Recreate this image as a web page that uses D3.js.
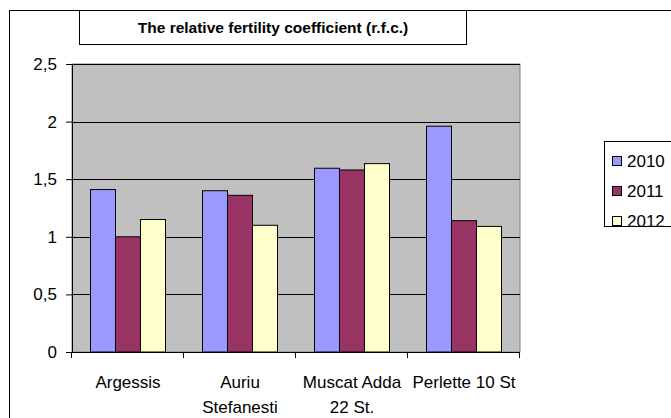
<!DOCTYPE html>
<html>
<head>
<meta charset="utf-8">
<script src="https://cdn.jsdelivr.net/npm/d3@7"></script>
<style>
  body { margin: 0; background: #fff; }
  text { font-family: "Liberation Sans", Arial, sans-serif; }
</style>
</head>
<body>
<div id="chart"></div>
<script>
// data
const categories = [["Argessis"], ["Auriu", "Stefanesti"], ["Muscat Adda", "22 St."], ["Perlette 10 St"]];
const years = ["2010", "2011", "2012"];
const v2010 = [1.41, 1.40, 1.595, 1.96];
const v2011 = [1.0, 1.36, 1.58, 1.14];
const v2012 = [1.15, 1.10, 1.635, 1.09];
const yTicks = [0, 0.5, 1, 1.5, 2, 2.5];
const colors = ["#9999FF", "#993366", "#FFFFCC"];

const series = [v2010, v2011, v2012];

const svg = d3.select("#chart")
    .append("svg")
    .attr("width", 671)
    .attr("height", 418);

// outer frame
svg.append("rect")
    .attr("x", 9.5).attr("y", 10.5)
    .attr("width", 700).attr("height", 500)
    .attr("fill", "#fff").attr("stroke", "#000");

// title box
svg.append("rect")
    .attr("x", 79.5).attr("y", 10.5)
    .attr("width", 387).attr("height", 34)
    .attr("fill", "#fff").attr("stroke", "#000");
svg.append("text")
    .attr("x", 273).attr("y", 33)
    .attr("text-anchor", "middle")
    .style("font-size", "15.5px")
    .style("font-weight", "bold")
    .text("The relative fertility coefficient (r.f.c.)");

const plot = {left: 72, top: 64, right: 520, bottom: 352};

const x = d3.scaleBand()
    .domain(d3.range(categories.length))
    .range([plot.left, plot.right])
    .padding(0);

const xs = d3.scaleBand()
    .domain(years)
    .range([18.5, x.bandwidth() - 18.5]);

const y = d3.scaleLinear()
    .domain([0, 2.5])
    .range([plot.bottom, plot.top]);

// plot area
svg.append("rect")
    .attr("x", plot.left).attr("y", plot.top)
    .attr("width", plot.right - plot.left).attr("height", plot.bottom - plot.top)
    .attr("fill", "#C0C0C0").attr("stroke", "#808080");

// gridlines
svg.append("g")
    .selectAll("line")
    .data(yTicks.filter(d => d > 0))
    .join("line")
    .attr("x1", plot.left).attr("x2", plot.right)
    .attr("y1", d => Math.round(y(d)) + 0.5).attr("y2", d => Math.round(y(d)) + 0.5)
    .attr("stroke", "#000");

// bars
series.forEach((vals, si) => {
  svg.append("g")
    .selectAll("rect")
    .data(vals)
    .join("rect")
    .attr("x", (d, i) => x(i) + xs(years[si]))
    .attr("y", d => y(d))
    .attr("width", xs.bandwidth())
    .attr("height", d => y(0) - y(d))
    .attr("fill", colors[si])
    .attr("stroke", "#000")
    .attr("stroke-width", 1);
});

// y axis
const yAxis = svg.append("g")
    .attr("transform", `translate(${plot.left}, 0)`)
    .call(d3.axisLeft(y).tickValues(yTicks).tickSize(6).tickSizeOuter(0).tickPadding(9)
      .tickFormat(d => String(d).replace(".", ",")));
yAxis.selectAll("text").style("font-size", "17px").attr("fill", "#000");
yAxis.selectAll("line, path").attr("stroke", "#000");

// x axis
const xAxisG = svg.append("g");
xAxisG.append("line")
    .attr("x1", plot.left).attr("x2", plot.right)
    .attr("y1", plot.bottom + 0.5).attr("y2", plot.bottom + 0.5)
    .attr("stroke", "#000");
xAxisG.selectAll("line.tk")
    .data(d3.range(categories.length + 1))
    .join("line")
    .attr("class", "tk")
    .attr("x1", i => Math.round(plot.left + i * x.bandwidth()) - 0.5)
    .attr("x2", i => Math.round(plot.left + i * x.bandwidth()) - 0.5)
    .attr("y1", plot.bottom).attr("y2", plot.bottom + 6)
    .attr("stroke", "#000");

const labels = svg.append("g")
    .selectAll("text")
    .data(categories)
    .join("text")
    .attr("text-anchor", "middle")
    .style("font-size", "17px")
    .attr("x", (d, i) => x(i) + x.bandwidth() / 2)
    .attr("y", 388);
labels.selectAll("tspan")
    .data(d => d)
    .join("tspan")
    .attr("x", function() { return this.parentNode.getAttribute("x"); })
    .attr("dy", (d, i) => i === 0 ? 0 : 25)
    .text(d => d);

// legend
svg.append("rect")
    .attr("x", 604.5).attr("y", 141.5)
    .attr("width", 100).attr("height", 85)
    .attr("fill", "#fff").attr("stroke", "#000");
const leg = svg.append("g")
    .selectAll("g")
    .data(years)
    .join("g")
    .attr("transform", (d, i) => `translate(612, ${161 + i * 30})`);
leg.append("rect")
    .attr("x", 0.5).attr("y", -4.5)
    .attr("width", 9).attr("height", 9)
    .attr("fill", (d, i) => colors[i])
    .attr("stroke", "#000");
leg.append("text")
    .attr("x", 15).attr("y", 6)
    .style("font-size", "17px")
    .text(d => d);
</script>
</body>
</html>
